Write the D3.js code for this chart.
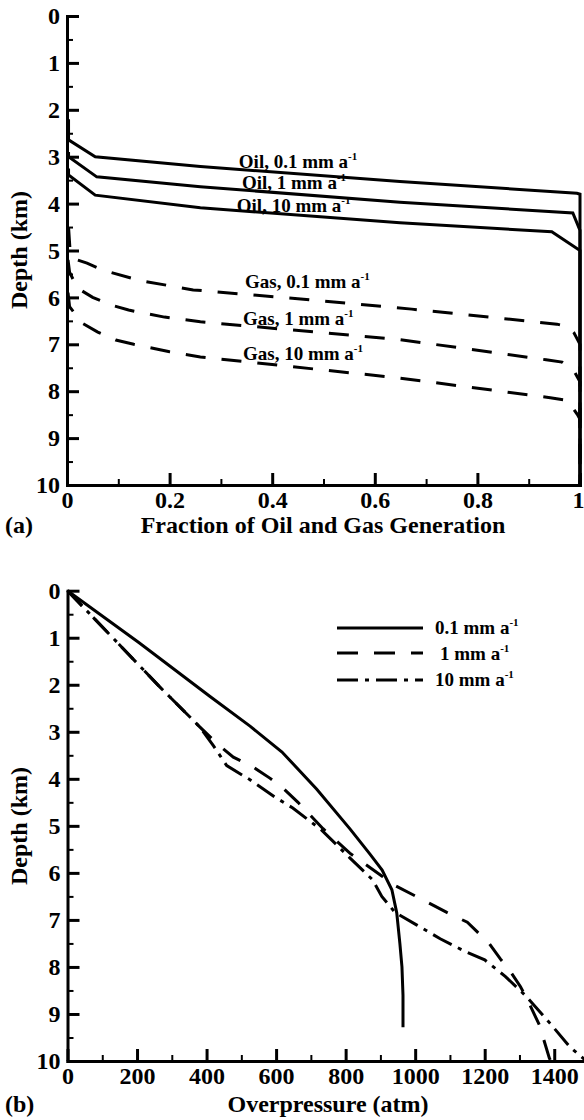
<!DOCTYPE html>
<html>
<head>
<meta charset="utf-8">
<script src="https://cdn.jsdelivr.net/npm/d3@7"></script>
<style>
  html, body { margin: 0; padding: 0; background: #fff; }
  svg { display: block; }
</style>
</head>
<body>
<svg id="chart" width="584" height="1120"></svg>
<script>
// ---------- Panel (a): fraction of oil and gas generation vs depth ----------
const oil01  = [[0.003,2.2],[0.003,2.64],[0.055,3.0],[0.26,3.21],[0.649,3.53],[0.994,3.78],[1,3.8],[1,10]];
const oil1   = [[0.003,2.9],[0.003,3.0],[0.058,3.43],[0.26,3.64],[0.649,3.97],[0.986,4.2],[1,4.57],[1,10]];
const oil10  = [[0.003,3.25],[0.003,3.39],[0.055,3.82],[0.26,4.09],[0.649,4.41],[0.945,4.6],[1,5.0],[1,10]];
const gas01  = [[0.003,4.5],[0.006,5.0],[0.02,5.2],[0.039,5.27],[0.07,5.42],[0.142,5.64],[0.246,5.84],[0.45,6.03],[0.672,6.25],[0.955,6.57],[0.978,6.63],[0.988,6.75],[1,7.0],[1,10]];
const gas1   = [[0.002,5.2],[0.005,5.46],[0.02,5.8],[0.05,6.0],[0.085,6.16],[0.12,6.27],[0.19,6.42],[0.26,6.52],[0.649,6.9],[0.934,7.33],[0.965,7.38],[0.99,7.6],[1,7.8],[1,10]];
const gas10  = [[0.002,5.9],[0.005,6.2],[0.03,6.55],[0.06,6.74],[0.095,6.91],[0.13,7.0],[0.2,7.16],[0.26,7.27],[0.649,7.72],[0.942,8.14],[0.976,8.2],[0.995,8.5],[1,8.6],[1,10]];
const oilNames = ["Oil, 0.1 mm a", "Oil, 1 mm a", "Oil, 10 mm a"];
const gasNames = ["Gas, 0.1 mm a", "Gas, 1 mm a", "Gas, 10 mm a"];

// ---------- Panel (b): overpressure vs depth ----------
const press01 = [[0,0],[205,1.1],[410,2.25],[525,2.88],[617,3.43],[717,4.22],[813,5.07],[870,5.6],[905,5.94],[933,6.36],[947,6.85],[956,7.5],[962,8.0],[965,8.6],[965,9.28]];
const press1  = [[0,0],[130,1.0],[266,2.05],[381,2.9],[430,3.25],[477,3.54],[534,3.75],[583,3.99],[620,4.2],[663,4.5],[735,5.06],[812,5.58],[905,6.07],[942,6.27],[1037,6.63],[1091,6.84],[1150,7.05],[1178,7.25],[1213,7.5],[1245,7.83],[1274,8.1],[1303,8.42],[1323,8.7],[1357,9.23],[1386,9.94],[1390,10]];
const press10 = [[0,0],[130,1.0],[266,2.05],[381,2.9],[420,3.3],[458,3.72],[525,4.02],[597,4.39],[648,4.62],[731,5.09],[812,5.68],[878,6.15],[904,6.5],[942,6.84],[1005,7.11],[1072,7.4],[1141,7.66],[1200,7.85],[1259,8.2],[1316,8.6],[1388,9.2],[1445,9.7],[1500,10.05]];
const rateNames = ["0.1 mm a", "1 mm a", "10 mm a"];

// ---------- Tick values ----------
const depthTicks      = [0,1,2,3,4,5,6,7,8,9,10];
const depthMinorTicks = [0.5,1.5,2.5,3.5,4.5,5.5,6.5,7.5,8.5,9.5];
const fracTicks       = [0,0.2,0.4,0.6,0.8,1];
const fracMinorTicks  = [0.1,0.3,0.5,0.7,0.9];
const pressTicks      = [0,200,400,600,800,1000,1200,1400];
const pressMinorTicks = [100,300,500,700,900,1100,1300,1500];

const FONT = "'Liberation Serif', 'Times New Roman', Times, 'DejaVu Serif', serif";
const svg = d3.select("#chart");
const AXIS_W = 3, LINE_W = 3;
const TICK_FS = 24, TITLE_FS = 24, LABEL_FS = 19;

function styleText(sel, fs) {
  return sel.attr("font-family", FONT).attr("font-weight", "bold")
    .attr("font-size", fs).attr("fill", "#000");
}

function drawAxes(g, x, y, xTicks, xMinor, yTicks, yMinor, fmt) {
  const bottom = y.range()[1];
  const left = x.range()[0];
  // minor ticks
  g.append("g").attr("transform", `translate(0,${bottom})`)
    .call(d3.axisBottom(x).tickValues(xMinor).tickSizeInner(-6).tickSizeOuter(0).tickFormat(""))
    .call(s => s.select(".domain").remove())
    .call(s => s.selectAll("line").attr("stroke", "#000").attr("stroke-width", 2));
  g.append("g").attr("transform", `translate(${left},0)`)
    .call(d3.axisLeft(y).tickValues(yMinor).tickSizeInner(-6).tickSizeOuter(0).tickFormat(""))
    .call(s => s.select(".domain").remove())
    .call(s => s.selectAll("line").attr("stroke", "#000").attr("stroke-width", 2));
  // major ticks with labels
  const xa = g.append("g").attr("transform", `translate(0,${bottom})`)
    .call(d3.axisBottom(x).tickValues(xTicks).tickSizeInner(-12).tickSizeOuter(0).tickPadding(6).tickFormat(fmt));
  const ya = g.append("g").attr("transform", `translate(${left},0)`)
    .call(d3.axisLeft(y).tickValues(yTicks).tickSizeInner(-12).tickSizeOuter(0).tickPadding(7).tickFormat(d3.format("d")));
  for (const a of [xa, ya]) {
    a.attr("font-family", FONT).attr("font-size", TICK_FS).attr("font-weight", "bold");
    a.selectAll("text").attr("fill", "#000");
    a.selectAll("line").attr("stroke", "#000").attr("stroke-width", AXIS_W);
    a.select(".domain").attr("stroke", "#000").attr("stroke-width", AXIS_W).attr("stroke-linecap", "square");
  }
  return { xa, ya };
}

function superLabel(g, x, y, base, fs, anchor) {
  const t = styleText(g.append("text"), fs).attr("x", x).attr("y", y)
    .attr("text-anchor", anchor || "start");
  t.append("tspan").text(base);
  t.append("tspan").attr("dy", -fs * 0.42).attr("font-size", fs * 0.58).text("-1");
  return t;
}

// ================= Panel (a) =================
const xa = d3.scaleLinear().domain([0, 1]).range([67, 580]);
const ya = d3.scaleLinear().domain([0, 10]).range([16, 485]);
const ga = svg.append("g");
const lineA = d3.line().x(d => xa(d[0])).y(d => ya(d[1]));

[oil01, oil1, oil10].forEach(s => {
  ga.append("path").attr("d", lineA(s)).attr("fill", "none")
    .attr("stroke", "#000").attr("stroke-width", LINE_W).attr("stroke-linejoin", "miter");
});
[gas01, gas1, gas10].forEach(s => {
  ga.append("path").attr("d", lineA(s)).attr("fill", "none")
    .attr("stroke", "#000").attr("stroke-width", LINE_W).attr("stroke-dasharray", "20,16");
});

const axA = drawAxes(ga, xa, ya, fracTicks, fracMinorTicks, depthTicks, depthMinorTicks, d3.format("~g"));
// keep the last fraction label inside the page
axA.xa.selectAll(".tick text").filter(d => d === 1).attr("dx", -2);

// curve labels, anchored in data coordinates
const oilLabelAt = [[0.335, 3.24], [0.341, 3.69], [0.331, 4.18]];
const gasLabelAt = [[0.347, 5.8], [0.343, 6.59], [0.343, 7.33]];
oilNames.forEach((n, i) => superLabel(ga, xa(oilLabelAt[i][0]), ya(oilLabelAt[i][1]), n, LABEL_FS));
gasNames.forEach((n, i) => superLabel(ga, xa(gasLabelAt[i][0]), ya(gasLabelAt[i][1]), n, LABEL_FS));

styleText(ga.append("text"), TITLE_FS).attr("x", 323).attr("y", 533).attr("text-anchor", "middle")
  .text("Fraction of Oil and Gas Generation");
styleText(ga.append("text"), TITLE_FS).attr("transform", "translate(27,250) rotate(-90)").attr("text-anchor", "middle")
  .text("Depth (km)");
styleText(ga.append("text"), TITLE_FS).attr("x", 5).attr("y", 533).text("(a)");

// ================= Panel (b) =================
const xb = d3.scaleLinear().domain([0, 1500]).range([67.5, 589]);
const yb = d3.scaleLinear().domain([0, 10]).range([590.7, 1061]);
const gb = svg.append("g");
const lineB = d3.line().x(d => xb(d[0])).y(d => yb(d[1]));

const styles = [
  { data: press01, dash: null },
  { data: press1,  dash: "21,16" },
  { data: press10, dash: "21,7,4,7" }
];
styles.forEach(s => {
  gb.append("path").attr("d", lineB(s.data)).attr("fill", "none")
    .attr("stroke", "#000").attr("stroke-width", LINE_W)
    .attr("stroke-dasharray", s.dash);
});

drawAxes(gb, xb, yb, pressTicks, pressMinorTicks, depthTicks, depthMinorTicks, d3.format("d"));

// legend
const legendY = [628, 653, 680];
const legendTextY = [634, 660, 686];
const legendTextX = [435, 440, 435];
styles.forEach((s, i) => {
  gb.append("line").attr("x1", 337).attr("x2", 423).attr("y1", legendY[i]).attr("y2", legendY[i])
    .attr("stroke", "#000").attr("stroke-width", LINE_W).attr("stroke-dasharray", s.dash);
  superLabel(gb, legendTextX[i], legendTextY[i], rateNames[i], LABEL_FS);
});

styleText(gb.append("text"), TITLE_FS).attr("x", 328).attr("y", 1112).attr("text-anchor", "middle")
  .text("Overpressure (atm)");
styleText(gb.append("text"), TITLE_FS).attr("transform", "translate(27,826) rotate(-90)").attr("text-anchor", "middle")
  .text("Depth (km)");
styleText(gb.append("text"), TITLE_FS).attr("x", 5).attr("y", 1112).text("(b)");
</script>
</body>
</html>
